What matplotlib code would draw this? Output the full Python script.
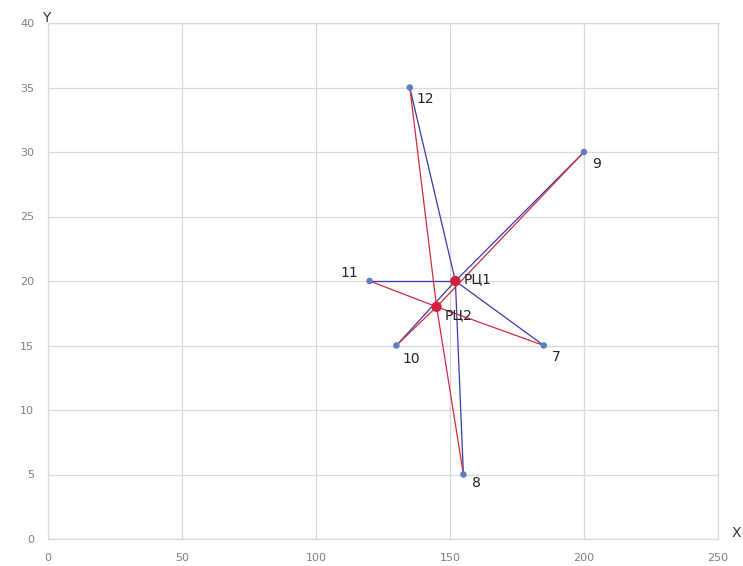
import matplotlib
matplotlib.use("Agg")
import matplotlib.pyplot as plt

# Data
point_names = ["12", "9", "11", "10", "7", "8"]
point_x = [135, 200, 120, 130, 185, 155]
point_y = [35, 30, 20, 15, 15, 5]
center_names = ["РЦ1", "РЦ2"]
center_x = [152, 145]
center_y = [20, 18]
x_ticks = [0, 50, 100, 150, 200, 250]
y_ticks = [0, 5, 10, 15, 20, 25, 30, 35, 40]

fig = plt.figure(figsize=(7.43, 5.66), dpi=100)
ax = fig.add_axes([48/743, (566-539)/566, (718-48)/743, (539-23)/566])

blue = "#3a3aa8"
red = "#d42a3c"

# lines from centres
for px, py in zip(point_x, point_y):
    ax.plot([center_x[0], px], [center_y[0], py], color=blue, lw=0.9, zorder=2)
    ax.plot([center_x[1], px], [center_y[1], py], color=red, lw=0.9, zorder=3)

ax.scatter(point_x, point_y, s=22, color="#5b7fc0", zorder=4, edgecolors="none")
ax.scatter(center_x, center_y, s=55, color="#d0203a", zorder=5, edgecolors="none")

offsets = {
    "12": (5, -8, "left"),
    "9": (6, -9, "left"),
    "11": (-8, 6, "right"),
    "10": (4, -10, "left"),
    "7": (6, -8, "left"),
    "8": (6, -6, "left"),
}
for n, px, py in zip(point_names, point_x, point_y):
    dx, dy, ha = offsets[n]
    ax.annotate(n, (px, py), xytext=(dx, dy), textcoords="offset points",
                ha=ha, va="center", fontsize=10, color="#222222")
ax.annotate(center_names[0], (center_x[0], center_y[0]), xytext=(6, 1), textcoords="offset points",
            ha="left", va="center", fontsize=10, color="#222222")
ax.annotate(center_names[1], (center_x[1], center_y[1]), xytext=(6, -6), textcoords="offset points",
            ha="left", va="center", fontsize=10, color="#222222")

ax.set_xlim(0, 250)
ax.set_ylim(0, 40)
ax.set_xticks(x_ticks)
ax.set_yticks(y_ticks)
ax.grid(True, color="#d9d9d9", lw=0.9)
ax.set_axisbelow(True)
ax.tick_params(length=0, labelsize=8, colors="#7f7f7f", pad=10)
for s in ax.spines.values():
    s.set_color("#d9d9d9")
    s.set_linewidth(0.9)

fig.text(42/743, 1 - 18/566, "Y", fontsize=10, color="#333333", ha="left", va="center")
fig.text(732/743, 1 - 533/566, "X", fontsize=10, color="#333333", ha="left", va="center")

fig.savefig("out.png", dpi=100)
